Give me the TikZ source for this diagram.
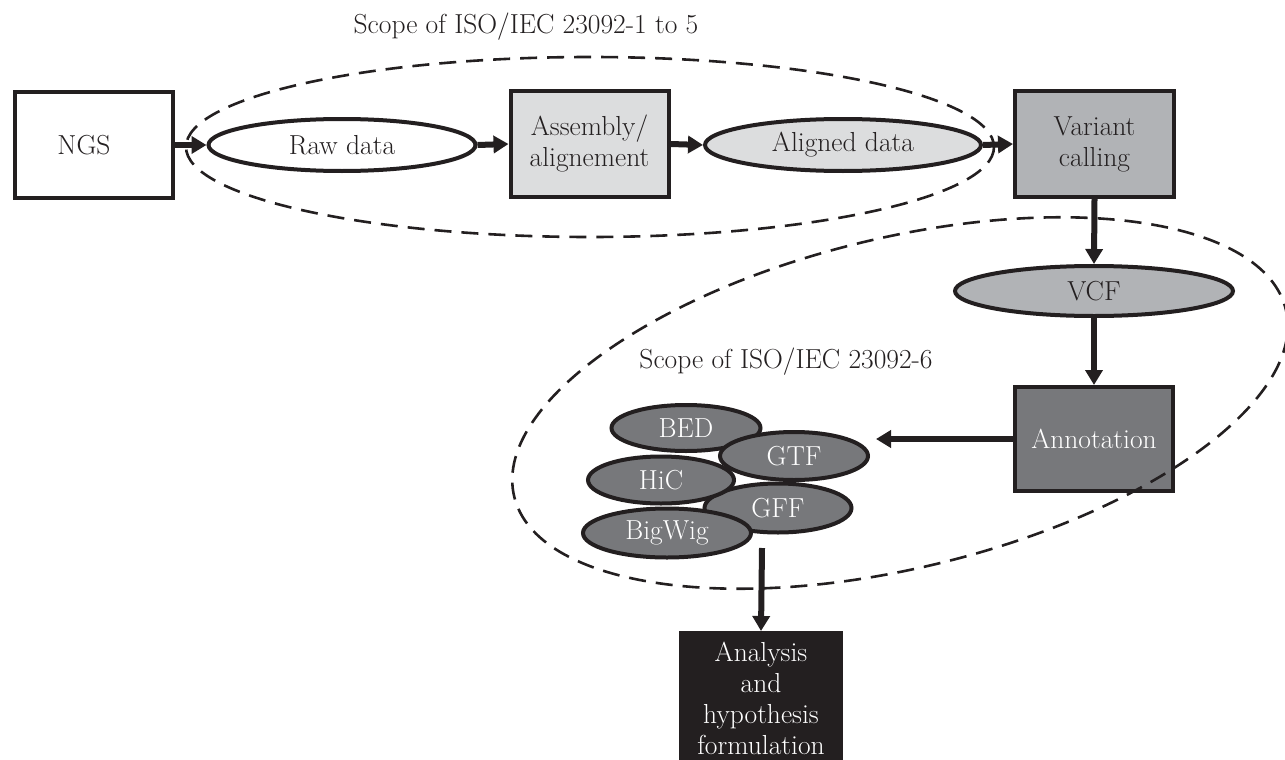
\documentclass[tikz,border=0pt]{standalone}
\usetikzlibrary{arrows.meta,shapes.geometric}
\definecolor{lgray}{HTML}{DCDDDE}
\definecolor{mgray}{HTML}{B1B3B6}
\definecolor{dgray}{HTML}{77787B}
\definecolor{ink}{HTML}{231F20}
\begin{document}
\begin{tikzpicture}[x=1pt,y=-1pt,
  every node/.style={font=\fontsize{27.5}{31}\selectfont, text=ink},
  box/.style={draw=ink, line width=4pt, rectangle, inner sep=0pt, align=center},
  oval/.style={draw=ink, line width=4pt, ellipse, inner sep=0pt},
  fmt/.style={oval, fill=dgray, text=white},
  arr/.style={draw=ink, line width=6pt, -{Triangle[length=15pt,width=17pt]}},
  scopeline/.style={draw=ink, line width=2.6pt, dash pattern=on 17pt off 10pt},
]
\useasboundingbox (0,0) rectangle (1285,760);

% main chain
\node[box, fill=white, minimum width=158pt, minimum height=106pt] (ngs) at (94,145) {NGS\hspace*{20pt}};
\node[oval, fill=white, minimum width=267pt, minimum height=52pt] (raw) at (342,145) {Raw data};
\node[box, fill=lgray, minimum width=158pt, minimum height=106pt] (asm) at (589.5,144) {Assembly/\\alignement};
\node[oval, fill=lgray, minimum width=276pt, minimum height=52pt] (ald) at (843,145) {Aligned data};
\node[box, fill=mgray, minimum width=159pt, minimum height=106pt] (var) at (1094.5,144) {Variant\\calling};
\node[oval, fill=mgray, minimum width=278pt, minimum height=50pt] (vcf) at (1094,291) {VCF};
\node[box, fill=dgray, text=white, minimum width=158pt, minimum height=104pt] (ann) at (1094,439) {Annotation};

% format cluster
\node[fmt, minimum width=149pt, minimum height=46pt] (bed) at (686,428) {BED};
\node[fmt, minimum width=147pt, minimum height=49pt] (gff) at (778,508) {GFF};
\node[fmt, minimum width=148pt, minimum height=48pt] (gtf) at (794,456) {GTF};
\node[fmt, minimum width=146pt, minimum height=47pt] (hic) at (661,480) {HiC};
\node[fmt, minimum width=168pt, minimum height=49pt] (bw) at (667,533) {BigWig};

% analysis
\node[box, fill=ink, text=white, minimum width=160pt, minimum height=131pt] (ana) at (761,698.5) {Analysis\\and\\hypothesis\\formulation};

% scope labels
\node (s1) at (526,27) {Scope of ISO/IEC 23092-1 to 5};
\node (s2) at (786,362) {Scope of ISO/IEC 23092-6};

% scope ellipses
\draw[scopeline] (590,147) ellipse [x radius=404, y radius=90];
\draw[scopeline, rotate around={13.65:(900,403)}] (900,403) ellipse [x radius=397, y radius=165];

% connectors
\draw[arr] (ngs.east) -- (raw.west);
\draw[arr] (raw.east) -- (asm.west);
\draw[arr] (asm.east) -- (ald.west);
\draw[arr] (ald.east) -- (var.west);
\draw[arr] (var.south) -- (vcf.north);
\draw[arr] (vcf.south) -- (ann.north);
\draw[arr, shorten >=6pt] (ann.west) -- (ann.west -| gtf.east);
\coordinate (grp) at (762,548);
\draw[arr] (grp) -- (ana.north);
\end{tikzpicture}
\end{document}
